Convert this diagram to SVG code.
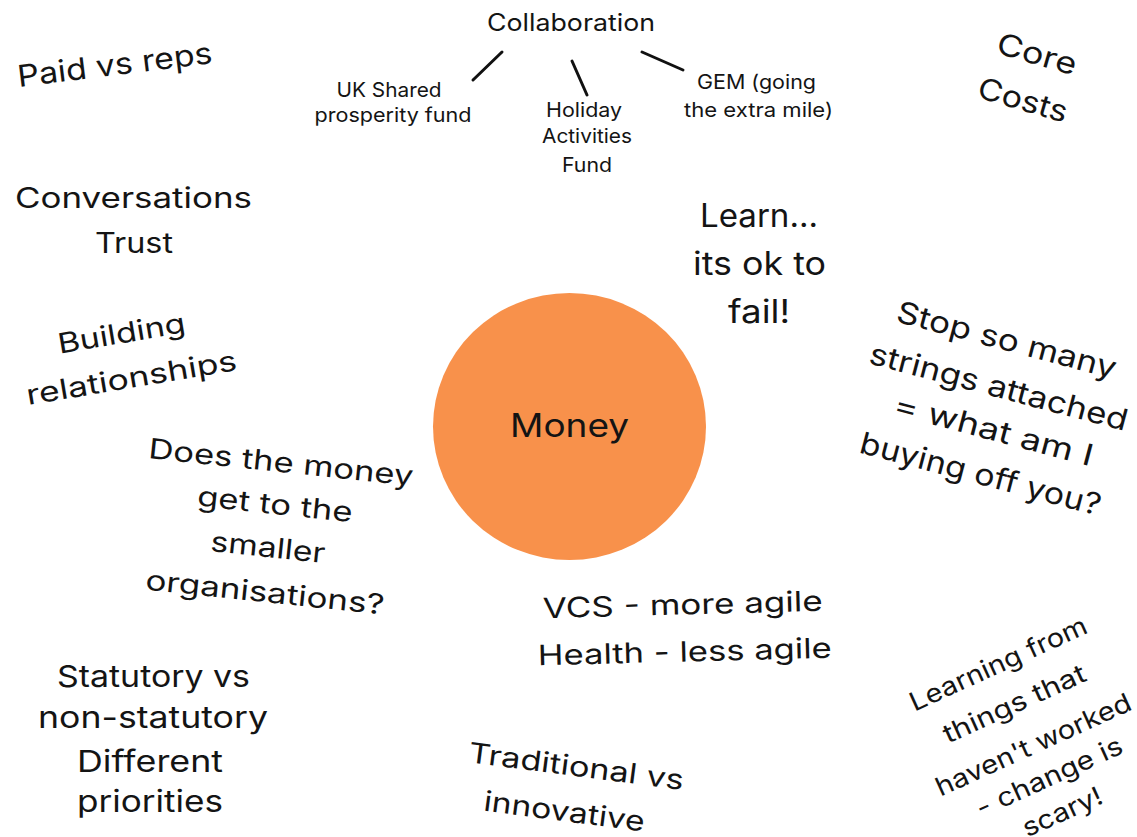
<svg xmlns="http://www.w3.org/2000/svg" width="1137" height="837" viewBox="0 0 1137 837">
  <style>
    text { font-family: Inter, "Noto Sans", "DejaVu Sans", sans-serif; fill: #141414; text-anchor: middle; }
    .s20 { font-size: 20px; }
    .s24 { font-size: 24px; }
    .s26 { font-size: 26px; }
    .s28 { font-size: 28px; }
    .s30 { font-size: 30px; }
    .s32 { font-size: 32px; }
    .link { stroke: #111; stroke-width: 3; stroke-linecap: round; fill: none; }
  </style>
  <rect width="1137" height="837" fill="#ffffff"/>

  <!-- central topic -->
  <g id="money">
    <ellipse cx="569.5" cy="426.5" rx="136.5" ry="133.5" fill="#F8914B"/>
    <text class="s32" x="569.5" y="437" textLength="119" lengthAdjust="spacingAndGlyphs">Money</text>
  </g>

  <!-- collaboration branch -->
  <g id="collaboration">
    <text class="s24" x="571" y="31" textLength="168" lengthAdjust="spacingAndGlyphs">Collaboration</text>
  </g>
  <g id="connectors">
    <line class="link" x1="473" y1="80" x2="502" y2="52"/>
    <line class="link" x1="572" y1="61" x2="587" y2="95"/>
    <line class="link" x1="642" y1="52" x2="683" y2="70"/>
  </g>
  <g id="uk-shared">
    <text class="s20" x="389" y="97" textLength="105" lengthAdjust="spacingAndGlyphs">UK Shared</text>
    <text class="s20" x="393" y="122" textLength="157" lengthAdjust="spacingAndGlyphs">prosperity fund</text>
  </g>
  <g id="holiday">
    <text class="s20" x="584" y="117" textLength="76" lengthAdjust="spacingAndGlyphs">Holiday</text>
    <text class="s20" x="587" y="143" textLength="90" lengthAdjust="spacingAndGlyphs">Activities</text>
    <text class="s20" x="587" y="172" textLength="50" lengthAdjust="spacingAndGlyphs">Fund</text>
  </g>
  <g id="gem">
    <text class="s20" x="756.5" y="89" textLength="119" lengthAdjust="spacingAndGlyphs">GEM (going</text>
    <text class="s20" x="758.5" y="117" textLength="149" lengthAdjust="spacingAndGlyphs">the extra mile)</text>
  </g>

  <!-- surrounding notes -->
  <g id="paid-vs-reps">
    <text class="s30" x="116" y="75" transform="rotate(-7 116 75)" textLength="196" lengthAdjust="spacingAndGlyphs">Paid vs reps</text>
  </g>
  <g id="core-costs">
    <text class="s30" x="1034" y="64" transform="rotate(16.3 1034 64)" textLength="82" lengthAdjust="spacingAndGlyphs">Core</text>
    <text class="s30" x="1020" y="110" transform="rotate(16.3 1020 110)" textLength="92" lengthAdjust="spacingAndGlyphs">Costs</text>
  </g>
  <g id="conversations">
    <text class="s28" x="133.5" y="208" textLength="237" lengthAdjust="spacingAndGlyphs">Conversations</text>
    <text class="s28" x="134" y="253" textLength="78" lengthAdjust="spacingAndGlyphs">Trust</text>
  </g>
  <g id="relationships">
    <text class="s28" x="123" y="343" transform="rotate(-9.5 123 343)" textLength="129" lengthAdjust="spacingAndGlyphs">Building</text>
    <text class="s28" x="133" y="387.5" transform="rotate(-9.5 133 387.5)" textLength="213" lengthAdjust="spacingAndGlyphs">relationships</text>
  </g>
  <g id="learn">
    <text class="s32" x="759" y="227" textLength="118" lengthAdjust="spacingAndGlyphs">Learn...</text>
    <text class="s32" x="759.5" y="275" textLength="133" lengthAdjust="spacingAndGlyphs">its ok to</text>
    <text class="s32" x="759" y="323" textLength="62" lengthAdjust="spacingAndGlyphs">fail!</text>
  </g>
  <g id="strings-attached">
    <text class="s30" x="1004" y="350" transform="rotate(14.8 1004 350)" textLength="226" lengthAdjust="spacingAndGlyphs">Stop so many</text>
    <text class="s30" x="996" y="397" transform="rotate(14.8 996 397)" textLength="266" lengthAdjust="spacingAndGlyphs">strings attached</text>
    <text class="s30" x="991" y="440" transform="rotate(14.8 991 440)" textLength="205" lengthAdjust="spacingAndGlyphs">= what am I</text>
    <text class="s30" x="978" y="484" transform="rotate(14.8 978 484)" textLength="248" lengthAdjust="spacingAndGlyphs">buying off you?</text>
  </g>
  <g id="smaller-orgs">
    <text class="s28" x="280" y="472" transform="rotate(6 280 472)" textLength="266" lengthAdjust="spacingAndGlyphs">Does the money</text>
    <text class="s28" x="274" y="514" transform="rotate(6 274 514)" textLength="156" lengthAdjust="spacingAndGlyphs">get to the</text>
    <text class="s28" x="267" y="557" transform="rotate(6 267 557)" textLength="115" lengthAdjust="spacingAndGlyphs">smaller</text>
    <text class="s28" x="264" y="602" transform="rotate(6 264 602)" textLength="240" lengthAdjust="spacingAndGlyphs">organisations?</text>
  </g>
  <g id="agility">
    <text class="s28" x="683" y="614.5" transform="rotate(-1.5 683 614.5)" textLength="280" lengthAdjust="spacingAndGlyphs">VCS - more agile</text>
    <text class="s28" x="685" y="661.5" transform="rotate(-1.5 685 661.5)" textLength="294" lengthAdjust="spacingAndGlyphs">Health - less agile</text>
  </g>
  <g id="statutory">
    <text class="s30" x="153.5" y="687" textLength="193" lengthAdjust="spacingAndGlyphs">Statutory vs</text>
    <text class="s30" x="153" y="728" textLength="230" lengthAdjust="spacingAndGlyphs">non-statutory</text>
    <text class="s30" x="150" y="772" textLength="146" lengthAdjust="spacingAndGlyphs">Different</text>
    <text class="s30" x="150" y="812" textLength="146" lengthAdjust="spacingAndGlyphs">priorities</text>
  </g>
  <g id="traditional">
    <text class="s28" x="575" y="776" transform="rotate(7.4 575 776)" textLength="217" lengthAdjust="spacingAndGlyphs">Traditional vs</text>
    <text class="s28" x="563" y="821" transform="rotate(7.4 563 821)" textLength="162" lengthAdjust="spacingAndGlyphs">innovative</text>
  </g>
  <g id="learning-from-failure">
    <text class="s26" x="1002" y="672" transform="rotate(-24.4 1002 672)" textLength="192" lengthAdjust="spacingAndGlyphs">Learning from</text>
    <text class="s26" x="1018" y="712" transform="rotate(-24.4 1018 712)" textLength="154" lengthAdjust="spacingAndGlyphs">things that</text>
    <text class="s26" x="1037" y="753" transform="rotate(-24.4 1037 753)" textLength="212" lengthAdjust="spacingAndGlyphs">haven't worked</text>
    <text class="s26" x="1053" y="785" transform="rotate(-24.4 1053 785)" textLength="158" lengthAdjust="spacingAndGlyphs">- change is</text>
    <text class="s26" x="1066" y="820" transform="rotate(-24.4 1066 820)" textLength="85" lengthAdjust="spacingAndGlyphs">scary!</text>
  </g>
</svg>
